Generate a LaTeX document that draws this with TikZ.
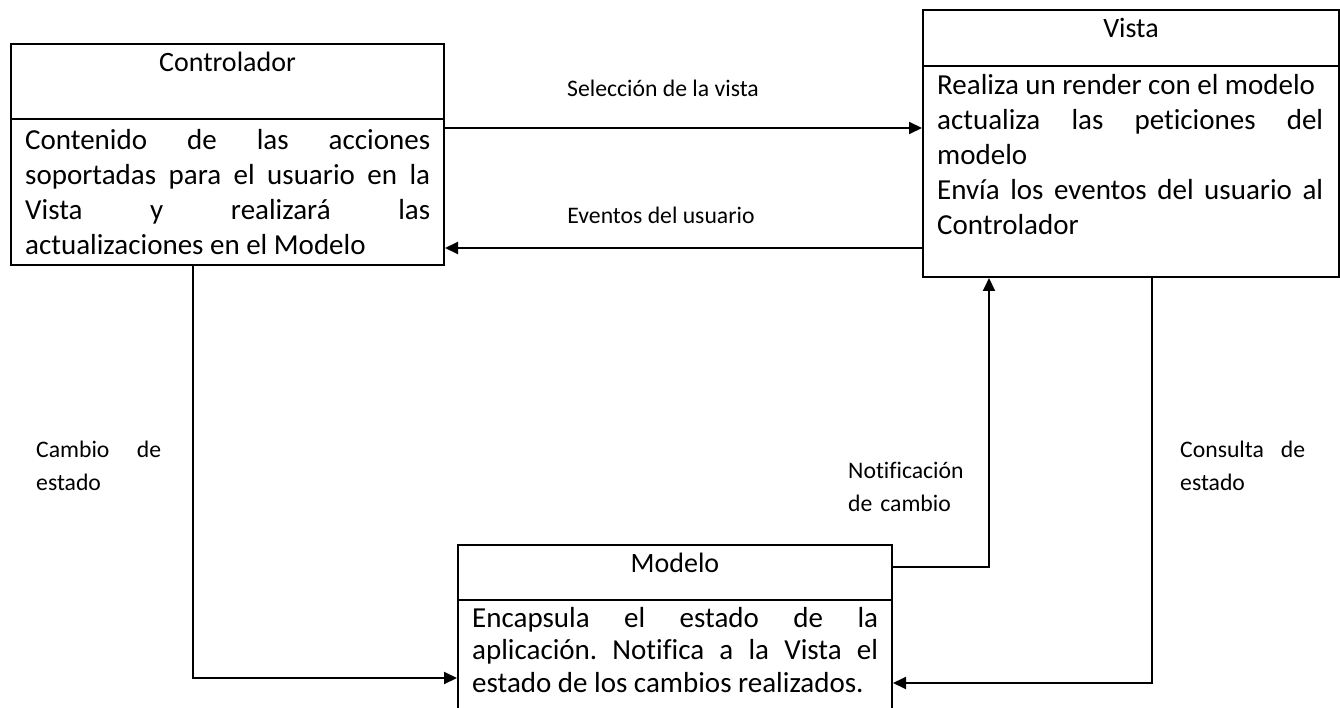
\documentclass[tikz,border=0pt]{standalone}
\usepackage{fontspec}
\setmainfont{Carlito}[Ligatures=NoCommon]
\usetikzlibrary{positioning,arrows.meta}
\tolerance=10000
\hbadness=10000
\frenchspacing

\begin{document}
\begin{tikzpicture}[x=1pt,y=-1pt,
    caja/.style={draw,line width=2pt,inner sep=0pt,anchor=north west},
    titulo/.style={anchor=base,inner sep=0pt,font=\fontsize{28}{35}\selectfont},
    cuerpo/.style={anchor=base west,inner sep=0pt,align=justify,font=\fontsize{29}{35}\selectfont},
    etiqueta/.style={anchor=base,inner sep=0pt,font=\fontsize{23.7}{33}\selectfont},
    bloque/.style={anchor=base west,inner sep=0pt,align=justify,font=\fontsize{23.7}{33}\selectfont},
    flecha/.style={line width=2pt,-{Triangle[length=13pt,width=12pt]}}]
        \useasboundingbox (0,0) rectangle (1340,708);
        % Cajas
        \node[caja,minimum width=433pt,minimum height=221pt] (ctrl) at (10,43) {};
        \node[caja,minimum width=416pt,minimum height=267pt] (vista) at (922,9) {};
        \node[caja,minimum width=434pt,minimum height=168pt] (modelo) at (457,544) {};
        \draw[line width=2pt] ([yshift=-76pt]ctrl.north west) -- ([yshift=-76pt]ctrl.north east);
        \draw[line width=2pt] ([yshift=-57pt]vista.north west) -- ([yshift=-57pt]vista.north east);
        \draw[line width=2pt] ([yshift=-56pt]modelo.north west) -- ([yshift=-56pt]modelo.north east);
        % Titulos
        \node[titulo] (ctrltit) at ([yshift=-29pt]ctrl.north) {Controlador};
        \node[titulo] (vistatit) at ([yshift=-29pt]vista.north) {Vista};
        \node[titulo] (modelotit) at ([yshift=-28pt]modelo.north) {Modelo};
        % Textos
        \node[cuerpo,text width=405pt] (ctrltxt) at ([xshift=15pt,yshift=-107pt]ctrl.north west)
            {Contenido de las acciones\linebreak soportadas para el usuario en la\linebreak
             Vista y realizará las\linebreak actualizaciones en el Modelo};
        \node[cuerpo,text width=386pt] (vistatxt) at ([xshift=15pt,yshift=-86pt]vista.north west)
            {Realiza un render con el modelo\\ actualiza las peticiones del\linebreak modelo\\
             Envía los eventos del usuario al\linebreak Controlador};
        \node[cuerpo,text width=406pt,font=\fontsize{29}{32.5}\selectfont]
            (modelotxt) at ([xshift=15pt,yshift=-83pt]modelo.north west)
            {Encapsula el estado de la\linebreak aplicación. Notifica a la Vista el\linebreak
             estado de los cambios realizados.};
        % Conexiones
        \coordinate (selA) at ([yshift=-85pt]ctrl.north east);
        \coordinate (evA) at ([yshift=-239pt]vista.north west);
        \coordinate (camA) at ([xshift=183pt]ctrl.south west);
        \coordinate (camB) at ([yshift=-134pt]modelo.north west);
        \coordinate (notA) at ([yshift=-23pt]modelo.north east);
        \coordinate (notB) at ([xshift=67pt]vista.south west);
        \coordinate (conA) at ([xshift=230pt]vista.south west);
        \coordinate (conB) at ([yshift=-139pt]modelo.north east);
        \draw[flecha] (selA) -- (vista.west |- selA);
        \draw[flecha] (evA) -- (ctrl.east |- evA);
        \draw[flecha] (camA) |- (camB);
        \draw[flecha] (notA) -| (notB);
        \draw[flecha] (conA) |- (conB);
        % Etiquetas
        \node[etiqueta] (sel) at (663,97) {Selección de la vista};
        \node[etiqueta] (ev) at (661,224) {Eventos del usuario};
        \node[bloque,text width=125pt] (cam) at (36,457) {Cambio de\linebreak estado};
        \node[etiqueta,anchor=base west,text width=120pt,align=left] (noti) at (848,478) {Notificación\\ de cambio};
        \node[bloque,text width=125pt] (cons) at (1180,457) {Consulta de\linebreak estado};
    \end{tikzpicture}
\end{document}
